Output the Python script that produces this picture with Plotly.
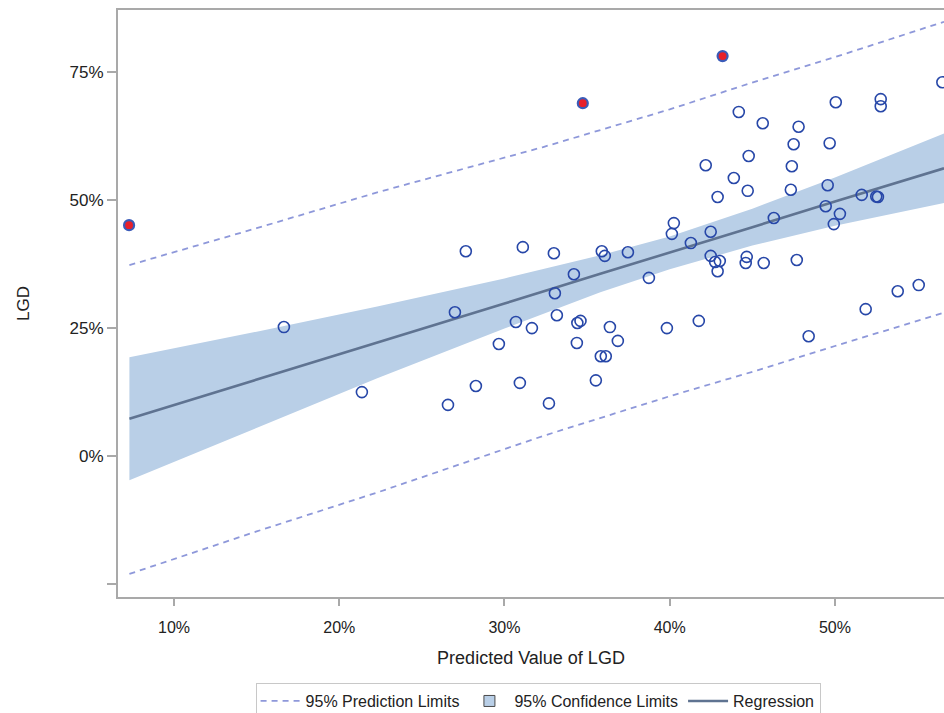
import plotly.graph_objects as go

# ---- data (percent units) ----
pred_x = [16.65, 21.37, 26.58, 27.66, 27.0, 28.27, 29.66, 30.69, 30.93, 31.11,
          31.66, 32.69, 33.05, 32.99, 33.17, 34.2, 34.38, 34.41, 34.6, 35.53,
          35.83, 36.13, 35.89, 36.07, 36.38, 36.86, 37.47, 38.74, 39.83, 40.13,
          40.25, 41.28, 41.76, 42.18, 42.48, 42.48, 42.75, 43.03, 42.9, 42.9,
          44.18, 43.88, 44.78, 44.6, 44.66, 44.72, 45.63, 45.69, 46.3, 47.5,
          47.8, 47.39, 47.33, 47.69, 48.41, 50.05, 49.68, 49.56, 49.44, 49.93,
          50.3, 51.62, 51.86, 52.5, 52.6, 52.77, 52.77, 53.8, 55.07, 56.5]
lgd_y = [25.2, 12.5, 10.0, 40.0, 28.1, 13.7, 21.9, 26.2, 14.3, 40.8,
         25.0, 10.3, 31.8, 39.6, 27.5, 35.5, 22.1, 26.0, 26.4, 14.8,
         19.5, 19.5, 40.0, 39.1, 25.2, 22.5, 39.8, 34.8, 25.0, 43.4,
         45.5, 41.6, 26.4, 56.8, 43.8, 39.1, 37.9, 38.1, 36.1, 50.6,
         67.2, 54.3, 58.6, 37.7, 38.9, 51.8, 65.0, 37.7, 46.5, 60.9,
         64.3, 56.6, 52.0, 38.3, 23.4, 69.1, 61.1, 52.9, 48.8, 45.3,
         47.3, 51.0, 28.7, 50.7, 50.6, 69.7, 68.3, 32.2, 33.4, 73.0]

outlier_x = [7.28, 34.74, 43.2]
outlier_y = [45.1, 68.9, 78.1]

fit_x = [7.3, 15.0, 22.3, 30.0, 35.8, 40.0, 45.0, 50.0, 56.6]
fit_y = [7.3, 14.9, 22.2, 29.8, 35.6, 39.7, 44.7, 49.7, 56.2]
cl_upper = [19.3, 24.3, 29.2, 34.7, 39.2, 42.9, 48.3, 54.4, 63.0]
cl_lower = [-4.7, 5.5, 15.2, 24.9, 32.0, 36.5, 41.1, 45.0, 49.4]

pl_x = [7.3, 15.0, 22.3, 32.3, 40.0, 45.35, 50.0, 56.6]
pl_upper = [37.3, 44.5, 51.5, 60.3, 67.7, 73.3, 77.9, 84.8]
pl_lower = [-23.0, -14.7, -7.1, 3.9, 11.7, 16.8, 21.5, 28.0]

x_ticks = [10, 20, 30, 40, 50]
x_ticklabels = ["10%", "20%", "30%", "40%", "50%"]
y_ticks = [-25, 0, 25, 50, 75]
y_ticklabels = ["", "0%", "25%", "50%", "75%"]

# ---- styles ----
BAND = "#b9cfe7"
REG = "#5f7391"
PL = "#8e98da"
PT = "#2747a8"
AXIS = "#a9a9a9"
FONT = "Liberation Sans, Arial, sans-serif"

fig = go.Figure()

fig.add_trace(go.Scatter(x=fit_x, y=cl_lower, mode="lines", line=dict(width=0, color=BAND),
                         showlegend=False, hoverinfo="skip"))
fig.add_trace(go.Scatter(x=fit_x, y=cl_upper, mode="lines", line=dict(width=0, color=BAND),
                         fill="tonexty", fillcolor=BAND, showlegend=False, hoverinfo="skip"))

fig.add_trace(go.Scatter(x=pl_x, y=pl_upper, mode="lines", name="95% Prediction Limits",
                         line=dict(color=PL, width=1.8, dash="6px,5px"), legendgroup="pl",
                         legendrank=1))
fig.add_trace(go.Scatter(x=pl_x, y=pl_lower, mode="lines", showlegend=False,
                         line=dict(color=PL, width=1.8, dash="6px,5px"), legendgroup="pl"))

fig.add_trace(go.Scatter(x=[None], y=[None], mode="markers", name="95% Confidence Limits",
                         marker=dict(symbol="square", size=11, color=BAND,
                                     line=dict(color="#4a4a4a", width=1)),
                         legendrank=2))

fig.add_trace(go.Scatter(x=fit_x, y=fit_y, mode="lines", name="Regression",
                         line=dict(color=REG, width=2.6), legendrank=3))

fig.add_trace(go.Scatter(x=pred_x, y=lgd_y, mode="markers", showlegend=False,
                         marker=dict(symbol="circle-open", size=11, color=PT,
                                     line=dict(width=1.6, color=PT))))

fig.add_trace(go.Scatter(x=outlier_x, y=outlier_y, mode="markers", showlegend=False,
                         marker=dict(symbol="circle", size=10, color="#e8202a",
                                     line=dict(width=2.2, color="#3a5bb8"))))

fig.update_layout(
    width=944, height=713,
    margin=dict(l=118, r=0, t=10, b=116),
    paper_bgcolor="white", plot_bgcolor="white",
    font=dict(family=FONT, size=16, color="#222222"),
    legend=dict(orientation="h", xref="container", yref="container",
                x=0.570, xanchor="center", y=0.042, yanchor="top",
                bordercolor="#c8c8c8", borderwidth=1,
                font=dict(size=16, color="#222222"), itemwidth=40,
                tracegroupgap=0),
    xaxis=dict(range=[6.61, 56.6], tickvals=x_ticks, ticktext=x_ticklabels,
               showgrid=False, zeroline=False, showline=True, linecolor=AXIS,
               linewidth=2, mirror=True, ticks="outside", ticklen=7,
               tickcolor=AXIS, tickwidth=1.5, ticklabelstandoff=8,
               tickfont=dict(size=16, color="#222222"),
               title=dict(text="Predicted Value of LGD", font=dict(size=18, color="#222222"),
                          standoff=16)),
    yaxis=dict(range=[-27.5, 87.1], tickvals=y_ticks, ticktext=y_ticklabels,
               showgrid=False, zeroline=False, showline=True, linecolor=AXIS,
               linewidth=2, ticks="outside", ticklen=9,
               tickcolor=AXIS, tickwidth=1.5,
               tickfont=dict(size=17, color="#222222"),
               title=dict(text="LGD", font=dict(size=17, color="#222222"),
                          standoff=36)),
)

fig.write_html("out.html")
